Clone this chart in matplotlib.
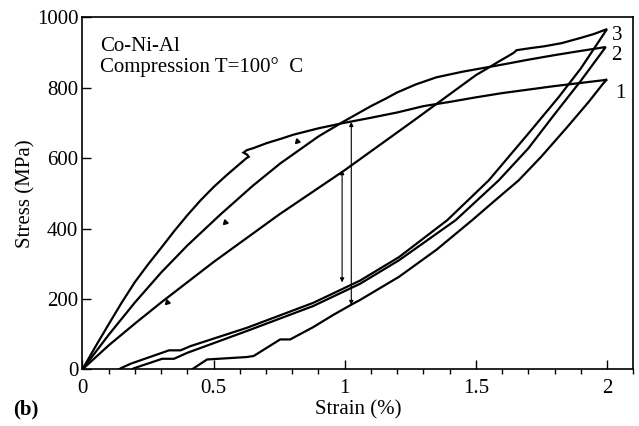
import matplotlib
matplotlib.use('Agg')
import matplotlib.pyplot as plt
from matplotlib.ticker import MultipleLocator

plt.rcParams['font.family'] = ['Liberation Serif', 'DejaVu Serif']

# loop 1: loading, plateau, unloading
loop1_strain = [0, 0.05, 0.1, 0.15, 0.2, 0.25, 0.3, 0.35, 0.4, 0.45, 0.5, 0.55, 0.6, 0.625,
                0.634, 0.628, 0.614, 0.627, 0.653, 0.703, 0.76, 0.805, 0.9, 0.995, 1.1, 1.2,
                1.3, 1.4, 1.5, 1.6, 1.7, 1.8, 1.9, 1.99, 2.0,
                1.985, 1.93, 1.85, 1.75, 1.663, 1.57, 1.486, 1.35, 1.207, 1.058, 1.033, 0.957,
                0.88, 0.792, 0.754, 0.653, 0.627, 0.475, 0.418]
loop1_stress = [0, 65, 128, 190, 248, 298, 345, 393, 438, 480, 518, 552, 584, 600,
                604, 610, 616, 623, 629, 643, 656, 667, 685, 700, 715, 730,
                748, 760, 773, 785, 795, 805, 814, 822, 824,
                812, 760, 690, 605, 537, 478, 424, 340, 263, 197, 187, 155,
                120, 85, 85, 38, 35, 28, 0]

# loop 2
loop2_strain = [0, 0.1, 0.2, 0.3, 0.4, 0.526, 0.65, 0.754, 0.9, 0.995, 1.1, 1.158, 1.2, 1.272,
                1.35, 1.45, 1.54, 1.6, 1.7, 1.8, 1.9, 1.995,
                1.9, 1.8, 1.7, 1.587, 1.423, 1.207, 1.058, 0.88, 0.627, 0.4, 0.349, 0.304,
                0.196, 0.19]
loop2_stress = [0, 98, 190, 275, 352, 440, 522, 585, 662, 704, 748, 770, 787, 810,
                830, 846, 858, 866, 880, 893, 905, 916,
                820, 725, 628, 537, 424, 310, 243, 180, 109, 47, 30, 30,
                3, 0]

# loop 3
loop3_strain = [0, 0.1, 0.2, 0.3, 0.5, 0.75, 1.0, 1.25, 1.5, 1.55, 1.59, 1.625, 1.645, 1.655,
                1.7, 1.76, 1.827, 1.9, 1.95, 2.0,
                1.9, 1.815, 1.7, 1.549, 1.391, 1.207, 1.058, 0.88, 0.627, 0.412, 0.374, 0.33,
                0.184, 0.146, 0.14]
loop3_stress = [0, 68, 130, 190, 305, 440, 566, 700, 836, 858, 876, 891, 900, 907,
                912, 918, 927, 942, 953, 967,
                855, 773, 670, 537, 424, 319, 252, 189, 118, 66, 54, 54,
                16, 3, 0]

# loading direction marks
mark_strain = [0.817, 0.545, 0.323]
mark_stress = [650, 418, 191]

# double arrows (strain, low stress, high stress)
arrow_strain = [0.99, 1.025]
arrow_low = [247, 183]
arrow_high = [566, 703]

loop_labels = ['1', '2', '3']
label_strain = [2.03, 2.017, 2.017]
label_stress = [783, 891, 948]

fig = plt.figure(figsize=(6.39, 4.26), dpi=100)
ax = fig.add_axes([0.129, 0.133, 0.862, 0.826])

for s, t in [(loop1_strain, loop1_stress), (loop2_strain, loop2_stress), (loop3_strain, loop3_stress)]:
    ax.plot(s, t, color='black', lw=1.6, solid_joinstyle='miter')

ax.plot(mark_strain, mark_stress, ls='none', marker=(3, 0, 15), ms=4, color='black')

for x, lo, hi in zip(arrow_strain, arrow_low, arrow_high):
    ax.annotate('', xy=(x, hi), xytext=(x, lo),
                arrowprops=dict(arrowstyle='<|-|>', color='black', lw=0.8,
                                mutation_scale=6, shrinkA=0, shrinkB=0))

for lab, x, y in zip(loop_labels, label_strain, label_stress):
    ax.text(x, y, lab, fontsize=15, ha='left', va='center')

ax.text(0.032, 0.945, 'Co-Ni-Al', transform=ax.transAxes, fontsize=15, va='top')
ax.text(0.032, 0.888, 'Compression T=100°  C', transform=ax.transAxes, fontsize=15, va='top')

ax.set_xlim(0, 2.1)
ax.set_ylim(0, 1000)
ax.xaxis.set_major_locator(MultipleLocator(0.5))
ax.xaxis.set_minor_locator(MultipleLocator(0.1))
ax.yaxis.set_major_locator(MultipleLocator(200))
ax.set_xticks([0, 0.5, 1, 1.5, 2])
ax.set_xticklabels(['0', '0.5', '1', '1.5', '2'])
ax.tick_params(direction='in', top=False, right=False, labelsize=15)
ax.tick_params(axis='x', which='major', length=6.5, width=1, pad=7)
ax.tick_params(axis='x', which='minor', length=3.6, width=1)
ax.tick_params(axis='y', which='major', length=6.5, width=1, pad=3)
for sp in ax.spines.values():
    sp.set_linewidth(1.2)

ax.set_xlabel('Strain (%)', fontsize=15)
ax.set_ylabel('Stress (MPa)', fontsize=15)
ax.xaxis.set_label_coords(0.5, -0.087)
ax.yaxis.set_label_coords(-0.085, 0.5)

fig.text(0.02, 0.038, '(b)', fontsize=15, fontweight='bold', va='center')

fig.savefig('out.png', dpi=100)
